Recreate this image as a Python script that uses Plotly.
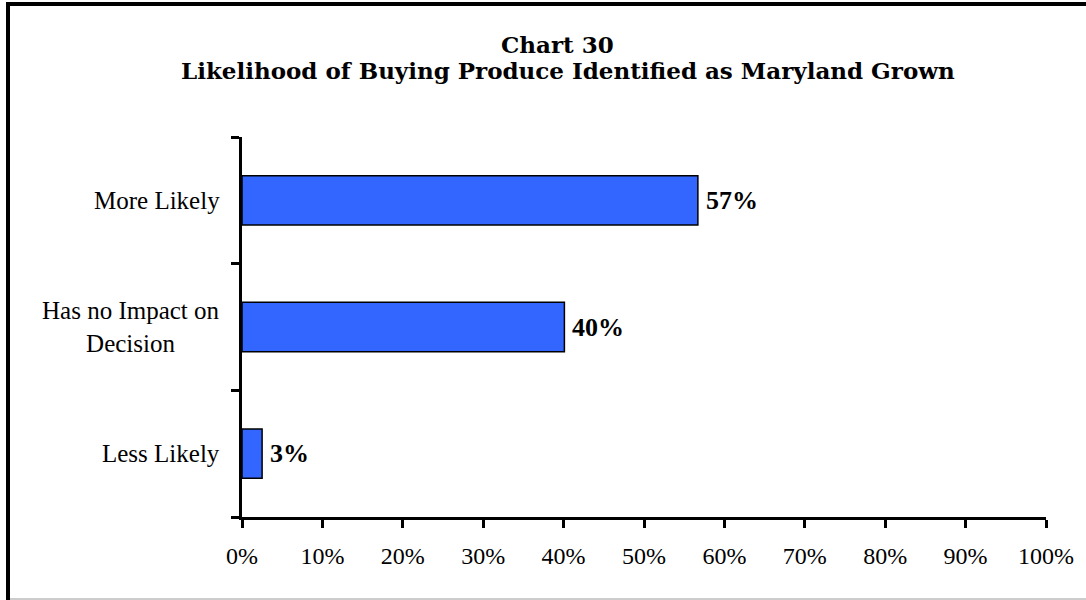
import plotly.graph_objects as go

# ---- data ----
categories = ["More Likely", "Has no Impact on<br>Decision", "Less Likely"]
values = [56.7, 40.1, 2.5]
value_labels = ["57%", "40%", "3%"]
x_tick_vals = [0, 10, 20, 30, 40, 50, 60, 70, 80, 90, 100]
x_tick_text = ["0%", "10%", "20%", "30%", "40%", "50%", "60%", "70%", "80%", "90%", "100%"]
title_line1 = "Chart 30"
title_line2 = "Likelihood of Buying Produce Identified as Maryland Grown"

# ---- layout geometry (pixels) ----
W, H = 1086, 600
ML, MR, MT, MB = 242, 40, 137, 83
PW, PH = W - ML - MR, H - MT - MB
FONT = "Liberation Serif, Times New Roman, serif"
TITLE_FONT = "DejaVu Serif, serif"


def px_x(x):
    return (x - ML) / PW


def px_y(y):
    return (H - MB - y) / PH


fig = go.Figure()
fig.add_trace(go.Bar(
    x=values,
    y=categories,
    orientation="h",
    marker=dict(color="#3366FF", line=dict(color="black", width=1.5)),
    width=0.39,
    hoverinfo="skip",
))

annotations = []
for c, v, lab in zip(categories, values, value_labels):
    annotations.append(dict(
        x=v, y=c, xref="x", yref="y", text="<b>%s</b>" % lab, showarrow=False,
        xanchor="left", yanchor="middle", xshift=6,
        font=dict(family=FONT, size=26, color="black"),
    ))
    annotations.append(dict(
        x=px_x(222), y=c, xref="paper", yref="y", text=c, showarrow=False,
        xanchor="right", yanchor="middle", align="center",
        font=dict(family=FONT, size=25, color="black"),
    ))

annotations.append(dict(
    x=px_x(557), y=px_y(45), xref="paper", yref="paper", text="<b>%s</b>" % title_line1,
    showarrow=False, xanchor="center", yanchor="middle",
    font=dict(family=TITLE_FONT, size=23, color="black"),
))
annotations.append(dict(
    x=px_x(568), y=px_y(70), xref="paper", yref="paper", text="<b>%s</b>" % title_line2,
    showarrow=False, xanchor="center", yanchor="middle",
    font=dict(family=TITLE_FONT, size=23, color="black"),
))

shapes = [
    dict(type="line", xref="paper", yref="paper", x0=px_x(8), x1=px_x(8),
         y0=px_y(2), y1=px_y(600), line=dict(color="black", width=4)),
    dict(type="line", xref="paper", yref="paper", x0=px_x(6), x1=px_x(1100),
         y0=px_y(4), y1=px_y(4), line=dict(color="black", width=4)),
    dict(type="line", xref="paper", yref="paper", x0=px_x(10), x1=px_x(1100),
         y0=px_y(599), y1=px_y(599), line=dict(color="#9a9a9a", width=1)),
]

fig.update_layout(
    width=W, height=H,
    margin=dict(l=ML, r=MR, t=MT, b=MB, autoexpand=False),
    paper_bgcolor="white", plot_bgcolor="white",
    showlegend=False,
    bargap=0.61,
    annotations=annotations,
    shapes=shapes,
    xaxis=dict(
        range=[0, 100], tickvals=x_tick_vals, ticktext=x_tick_text,
        showline=True, linecolor="black", linewidth=3,
        ticks="outside", ticklen=8, tickwidth=3, tickcolor="black",
        showgrid=False, zeroline=False,
        tickfont=dict(family=FONT, size=24, color="black"),
        ticklabelstandoff=7,
        fixedrange=True,
    ),
    yaxis=dict(
        type="category",
        categoryorder="array", categoryarray=categories[::-1],
        showline=True, linecolor="black", linewidth=3,
        ticks="outside", ticklen=8, tickwidth=3, tickcolor="black",
        tickson="boundaries",
        showticklabels=False, showgrid=False, zeroline=False,
        fixedrange=True,
    ),
)

fig.write_html(
    "out.html",
    config=dict(displayModeBar=False),
    post_script="document.body.style.margin='0';document.body.style.overflow='hidden';",
)
